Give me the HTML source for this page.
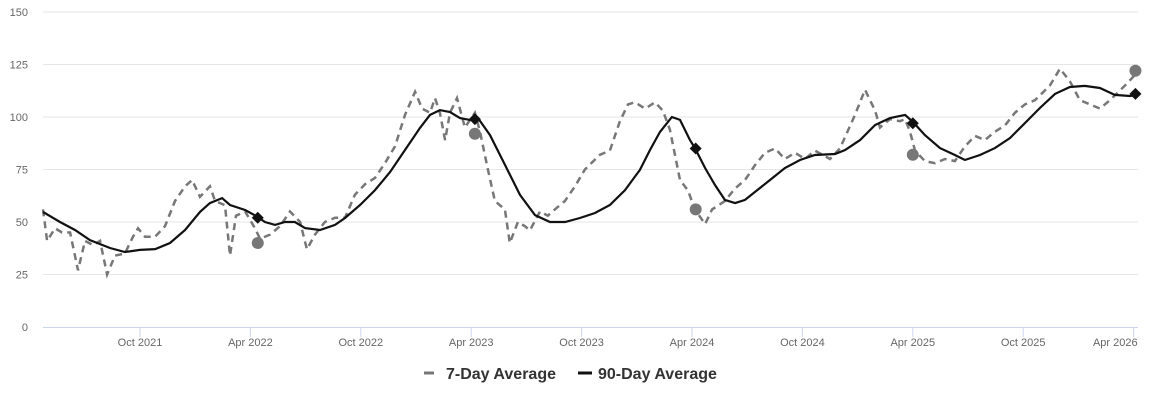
<!DOCTYPE html>
<html><head><meta charset="utf-8"><style>
body{margin:0;background:#fff;font-family:"Liberation Sans",Arial,sans-serif}
svg{display:block}
</style></head><body>
<svg id="chart" width="1150" height="401" viewBox="0 0 1150 401" xmlns="http://www.w3.org/2000/svg">
<g id="grid"></g>
<g id="yaxis"></g>
<g id="xaxis"></g>
<g id="series"></g>
<g id="legend">
  <g>
    <line x1="424" y1="373" x2="434" y2="373" stroke="#777" stroke-width="3"/>
    <text x="446" y="379" font-size="16" font-weight="bold" fill="#333">7-Day Average</text>
  </g>
  <g>
    <line x1="578" y1="373" x2="592" y2="373" stroke="#111" stroke-width="3"/>
    <text x="598" y="379" font-size="16" font-weight="bold" fill="#333">90-Day Average</text>
  </g>
</g>
</svg>
<script>
const yTicks = [0,25,50,75,100,125,150];
const xTickMonths = [9,15,21,27,33,39,45,51,57,63];
const xTickLabels = ["Oct 2021","Apr 2022","Oct 2022","Apr 2023","Oct 2023","Apr 2024","Oct 2024","Apr 2025","Oct 2025","Apr 2026"];
const months7 = [3.73,3.95,4.38,4.76,5.2,5.63,6.01,6.45,6.83,7.21,7.64,8.18,8.62,8.89,9.27,9.82,10.36,10.9,11.45,11.83,12.26,12.8,13.08,13.62,13.89,14.22,14.71,15.25,15.52,16.07,16.61,17.15,17.7,18.07,18.51,19.05,19.6,20.14,20.68,21.23,21.77,22.31,22.86,23.4,23.95,24.33,24.76,25.03,25.3,25.58,25.85,26.23,26.66,27.2,27.48,27.91,28.29,28.83,29.1,29.54,29.92,30.19,30.74,31.17,31.55,32.09,32.64,33.18,33.99,34.54,35.08,35.52,35.9,36.45,36.99,37.42,37.8,38.35,38.78,39.16,39.71,40.09,40.79,41.34,41.88,42.42,42.97,43.51,44.05,44.6,45.14,45.68,46.5,47.04,47.86,48.4,48.95,49.22,49.76,50.3,50.58,50.85,51.12,51.66,52.21,52.75,53.29,53.83,54.38,54.92,55.46,56.01,56.55,57.09,57.64,58.45,59.0,59.54,60.08,60.63,61.17,61.71,62.53,63.07];
const avg7 = [56,41,47,45,45,27,41,39,41,25,34,35,43,47,43,43,48,60,67,70,62,67,60,58,34,53,55,47,42,44,48,55,50,37,44,50,52,52,63,68,71,78,86,101,112,104,102,109,102,89,102,109,95,102,93,75,60,56,40,50,48,46,55,53,56,60,67,75,82,84,98,106,107,104,107,103,94,70,65,56,49,56,60,66,70,77,83,85,80,83,80,84,80,85,101,113,103,95,99,98,99,93,84,79,78,80,79,86,91,89,93,96,102,106,108,115,123,117,108,106,104,108,115,120];
const months90 = [3.73,4.65,5.47,6.28,7.37,8.18,9.0,9.82,10.63,11.45,12.26,12.8,13.46,13.89,14.71,15.41,15.79,16.34,16.88,17.42,17.97,18.78,19.6,20.14,20.96,21.77,22.59,23.4,24.22,24.76,25.3,25.85,26.39,26.93,27.37,28.02,28.84,29.65,30.47,31.28,32.1,32.91,33.73,34.54,35.36,36.17,36.72,37.26,37.91,38.35,38.89,39.16,39.71,40.25,40.79,41.34,41.88,42.42,43.24,44.05,44.87,45.68,46.77,47.32,48.13,48.95,49.76,50.58,51.01,51.66,52.48,53.29,53.83,54.65,55.46,56.28,57.09,57.91,58.73,59.54,60.35,61.17,61.98,62.8,63.18];
const avg90 = [54.8,50,46.2,41.4,37.6,35.7,36.7,37.1,40,46.2,54.8,59,61.4,58.1,55.7,52.4,50,48.6,50,50,47.1,46.2,48.6,51.9,58.1,65.2,73.8,84.3,94.8,101,103.3,102.4,99.5,98.6,99.5,91.4,77.1,62.9,53.3,50,50,51.9,54.3,58.1,65.2,74.8,84.3,92.9,100,98.6,89,85.2,75.7,67.6,60.5,59,60.5,64.3,70,75.7,79.5,81.9,82.4,84.3,89,96.2,99.5,101,97.6,91.4,85.2,81.9,79.5,81.9,85.2,90,97.1,104.3,111,114.3,114.8,113.8,110.5,110,110.5];
const markerMonths = [15.4,27.2,39.2,51.0,63.1];
const marker7 = [40,92,56,82,122];
const marker90 = [52,99,85,97,111];

const NS="http://www.w3.org/2000/svg";
const X0=43,X1=1138,Y0=327,Y1=12;
function xs(m){return 140+(m-9)*18.4;}
function ys(v){return Y0-(v/150)*(Y0-Y1);}
function mk(tag,attrs,parent){const e=document.createElementNS(NS,tag);for(const k in attrs)e.setAttribute(k,attrs[k]);parent.appendChild(e);return e;}
const grid=document.getElementById('grid'),ya=document.getElementById('yaxis'),xa=document.getElementById('xaxis'),se=document.getElementById('series');
yTicks.forEach(t=>{
  if(t>0){const g=mk('line',{x1:X0,x2:X1,y1:ys(t),y2:ys(t),stroke:'#e6e6e6','stroke-width':1},grid);
  
  }
  const tx=mk('text',{x:28,y:ys(t)+4,'font-size':11,fill:'#666','text-anchor':'end'},ya);
  tx.textContent=t;
  
  
});
const ax=mk('line',{x1:X0,x2:X1,y1:Y0+0.5,y2:Y0+0.5,stroke:'#ccd6eb','stroke-width':1},xa);


xTickMonths.forEach((m,i)=>{
  const x=xs(m);
  const tk=mk('line',{x1:x,x2:x,y1:Y0,y2:Y0+10,stroke:'#ccd6eb'},xa);
  
  
  const last=(x+24>1148);
  const tx=mk('text',{x:last?x+4:x,y:346,'font-size':11,fill:'#666','text-anchor':last?'end':'middle'},xa);
  tx.textContent=xTickLabels[i];
  
  
});
function pathD(ms,vs){return ms.map((m,i)=>(i?'L':'M')+xs(m).toFixed(1)+' '+ys(vs[i]).toFixed(1)).join(' ');}
const p7=mk('path',{d:pathD(months7,avg7),fill:'none',stroke:'#777','stroke-width':2.5,'stroke-dasharray':'7,5'},se);


const p90=mk('path',{d:pathD(months90,avg90),fill:'none',stroke:'#111','stroke-width':2.2},se);


markerMonths.forEach((m,i)=>{
  const c=mk('circle',{cx:xs(m),cy:ys(marker7[i]),r:6,fill:'#777'},se);
  
  
  const x=xs(m),y=ys(marker90[i]);
  const d=mk('path',{d:`M${x} ${y-6} L${x+6} ${y} L${x} ${y+6} L${x-6} ${y} Z`,fill:'#111'},se);
  
  
});
</script>
</body></html>
